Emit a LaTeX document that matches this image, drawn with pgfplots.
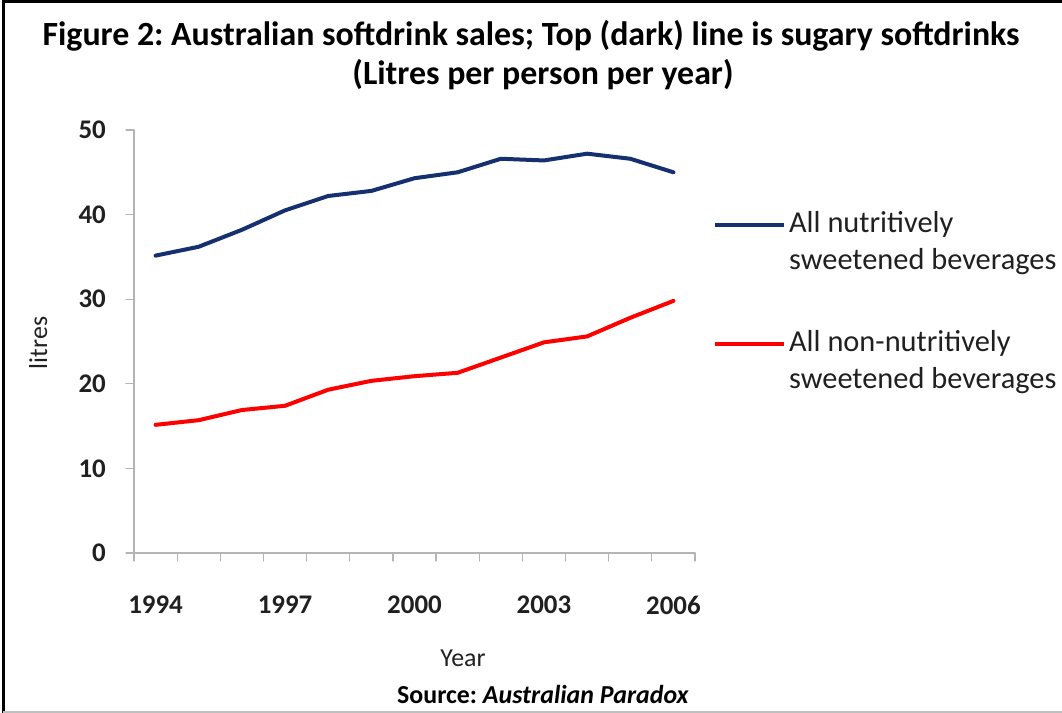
\documentclass[border=0pt]{standalone}
\usepackage{pgfplots}
\usepackage{pgfplotstable}
\pgfplotsset{compat=1.18}
\usepackage{fontspec}
\setmainfont{Carlito}
\frenchspacing
\definecolor{navy}{HTML}{14306E}
\definecolor{axgray}{HTML}{B4B4B4}
\definecolor{txt}{HTML}{202020}

\pgfplotstableread{
year sugary diet
1994 35.15 15.15
1995 36.2  15.7
1996 38.2  16.9
1997 40.5  17.4
1998 42.2  19.3
1999 42.8  20.35
2000 44.3  20.9
2001 45.0  21.3
2002 46.6  23.1
2003 46.4  24.9
2004 47.2  25.6
2005 46.6  27.8
2006 45.0  29.8
}\softdata

\begin{document}
\begin{tikzpicture}
\path[use as bounding box] (0bp,0bp) rectangle (1062bp,713bp);
\fill[white] (0bp,0bp) rectangle (1062bp,713bp);
\draw[black, line width=3bp] (3bp,0bp) -- (3bp,711.5bp) -- (1062bp,711.5bp);
\draw[gray!50, line width=2bp] (3bp,1bp) -- (1062bp,1bp);

\node[anchor=base, font=\fontsize{34}{40}\selectfont\bfseries] at (531bp,667bp) {Figure 2: Australian softdrink sales; Top (dark) line is sugary softdrinks};
\node[anchor=base, font=\fontsize{34}{40}\selectfont\bfseries] at (543bp,628bp) {(Litres per person per year)};
\node[anchor=base, font=\fontsize{26}{31}\selectfont\bfseries] at (543bp,10bp) {Source: \textit{Australian Paradox}};

\begin{axis}[
  at={(134bp,160bp)}, anchor=south west,
  scale only axis, width=561bp, height=423bp,
  xmin=1993.5, xmax=2006.5, ymin=0, ymax=50,
  axis x line*=bottom, axis y line*=left,
  axis line style={axgray, line width=1.2bp},
  xtick={1994,1997,2000,2003,2006},
  xticklabels={1994,1997,2000,2003,2006},
  ytick={0,10,20,30,40,50},
  yticklabels={0,10,20,30,40,50},
  minor xtick={1993.5,1994.5,...,2006.5},
  minor ytick={0,10,20,30,40,50},
  major tick length=0pt,
  minor tick length=8bp,
  tick align=outside,
  every minor tick/.style={axgray, line width=1.2bp},
  tick label style={font=\fontsize{27}{32}\selectfont\bfseries, text=txt, inner sep=0pt},
  xticklabel style={anchor=center, yshift=-52bp},
  yticklabel style={anchor=east, xshift=-28bp},
  xlabel={Year},
  xlabel style={at={(axis description cs:0.5865,-0.2695)}, anchor=base, inner sep=0pt, font=\fontsize{26}{31}\selectfont, text=txt},
  ylabel={litres},
  ylabel style={at={(axis description cs:-0.155,0.4965)}, anchor=base, inner sep=0pt, font=\fontsize{26}{31}\selectfont, text=txt},
  legend image code/.code={\draw[#1] (0bp,-5bp) -- (69bp,-5bp);},
  legend cell align=left,
  legend style={draw=none, fill=none, inner sep=0pt,
    at={(axis description cs:1.032,0.82)}, anchor=north west,
    font=\fontsize{30.5}{37}\selectfont, text=txt,
    nodes={inner sep=0pt}, row sep=92bp, column sep=3bp},
  line join=round, line cap=round,
]
\addplot[navy, line width=4bp] table[x=year, y=sugary] {\softdata};
\addlegendentry{\begin{tabular}[t]{@{}l@{}}All nutritively\\sweetened beverages\end{tabular}}
\addplot[red, line width=4bp] table[x=year, y=diet] {\softdata};
\addlegendentry{\begin{tabular}[t]{@{}l@{}}All non-nutritively\\sweetened beverages\end{tabular}}
\end{axis}
\end{tikzpicture}
\end{document}
